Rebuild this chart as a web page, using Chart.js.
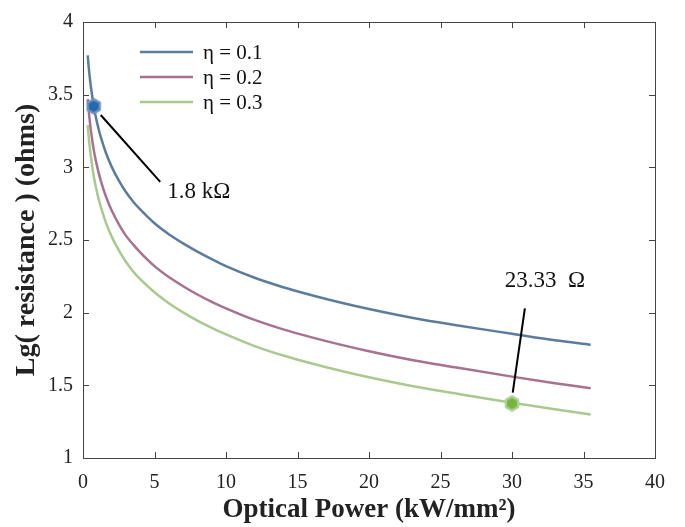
<!DOCTYPE html>
<html><head><meta charset="utf-8">
<script src="https://cdn.jsdelivr.net/npm/chart.js@4.4.0/dist/chart.umd.min.js"></script>
<style>html,body{margin:0;background:#fff}</style>
</head><body>
<canvas id="c" width="685" height="527"></canvas>
<script>
// values
const power=[0.33,0.4,0.5,0.6,0.75,0.9,1.1,1.3,1.6,2,2.5,3,3.5,4,5,6,7,8,9,10,12,14,16,18,20,23,26,30,33,35.5];
const eta1=[3.77,3.69,3.595,3.52,3.42,3.345,3.26,3.19,3.10,3.005,2.91,2.83,2.765,2.71,2.615,2.54,2.477,2.42,2.368,2.32,2.24,2.175,2.12,2.07,2.025,1.965,1.915,1.855,1.81,1.78];
const eta2=[3.47,3.39,3.295,3.22,3.12,3.045,2.96,2.89,2.80,2.705,2.61,2.53,2.47,2.415,2.32,2.245,2.182,2.125,2.075,2.03,1.95,1.885,1.83,1.78,1.735,1.675,1.625,1.56,1.515,1.48];
const eta3=[3.29,3.21,3.115,3.04,2.94,2.865,2.78,2.71,2.62,2.525,2.43,2.35,2.285,2.23,2.14,2.065,2.002,1.945,1.895,1.85,1.77,1.705,1.65,1.60,1.555,1.495,1.445,1.38,1.335,1.30];
const seriesNames=['η = 0.1','η = 0.2','η = 0.3'];
const markPower=[0.75,30];
const markLg=[3.42,1.375];
const markText=['1.8 kΩ','23.33  Ω'];
const xTicks=[0,5,10,15,20,25,30,35,40];
const yTicks=[1,1.5,2,2.5,3,3.5,4];

const COLS=['#5C7C9E','#A8718F','#A9C98F'];
const SERIF='"Liberation Serif","DejaVu Serif",serif';

function hexMark(fill,ring){
  const c=document.createElement('canvas'),r=8;c.width=c.height=2*r+2;
  const g=c.getContext('2d');g.beginPath();
  for(let i=0;i<6;i++){const a=Math.PI/6+i*Math.PI/3;g.lineTo(r+1+(r-1)*Math.cos(a),r+1+(r-1)*Math.sin(a));}
  g.closePath();g.fillStyle=fill;g.fill();g.lineWidth=2.4;g.strokeStyle=ring;g.stroke();
  return c;
}
const pts=arr=>power.map((p,i)=>({x:p,y:arr[i]}));

// callout geometry, data coords: [from x,y, to x,y, text x,y, align]
const callouts=[[1.24,3.36,5.4,2.9,5.9,2.83,'left'],[30.05,1.45,30.9,2.03,32.3,2.22,'center']];

const boxPlug={id:'box',afterDraw(ch){
  const {ctx,chartArea:a,scales:{x,y}}=ch;
  ctx.save();ctx.strokeStyle='#444';ctx.lineWidth=1;
  ctx.strokeRect(Math.round(a.left)+.5,Math.round(a.top)+.5,Math.round(a.right-a.left),Math.round(a.bottom-a.top));
  ctx.beginPath();
  xTicks.slice(1,-1).forEach(t=>{const px=Math.round(x.getPixelForValue(t))+.5;
    ctx.moveTo(px,a.bottom);ctx.lineTo(px,a.bottom-6);ctx.moveTo(px,a.top);ctx.lineTo(px,a.top+6);});
  yTicks.slice(1,-1).forEach(t=>{const py=Math.round(y.getPixelForValue(t))+.5;
    ctx.moveTo(a.left,py);ctx.lineTo(a.left+6,py);ctx.moveTo(a.right,py);ctx.lineTo(a.right-6,py);});
  ctx.stroke();
  // legend
  ctx.font='21px '+SERIF;ctx.textBaseline='middle';ctx.fillStyle='#111';
  seriesNames.forEach((n,i)=>{const ly=52+i*25;
    ctx.strokeStyle=COLS[i];ctx.lineWidth=2.5;ctx.beginPath();ctx.moveTo(140,ly);ctx.lineTo(193,ly);ctx.stroke();
    ctx.fillText(n,203,ly+1);});
  // callouts
  ctx.strokeStyle='#000';ctx.lineWidth=2;ctx.font='23px '+SERIF;
  callouts.forEach((c,i)=>{
    ctx.beginPath();ctx.moveTo(x.getPixelForValue(c[0]),y.getPixelForValue(c[1]));
    ctx.lineTo(x.getPixelForValue(c[2]),y.getPixelForValue(c[3]));ctx.stroke();
    ctx.textAlign=c[6];ctx.fillText(markText[i],x.getPixelForValue(c[4]),y.getPixelForValue(c[5]));
  });
  ctx.restore();
}};

new Chart(document.getElementById('c'),{
  type:'scatter',
  data:{datasets:[
    {label:'m1',data:[{x:markPower[0],y:markLg[0]}],pointStyle:hexMark('#2468B0','#7393B8'),pointRadius:8},
    {label:'m2',data:[{x:markPower[1],y:markLg[1]}],pointStyle:hexMark('#77B43F','#ABD08F'),pointRadius:8},
    {label:seriesNames[0],data:pts(eta1),showLine:true,borderColor:COLS[0],borderWidth:2.5,pointRadius:0,cubicInterpolationMode:'monotone'},
    {label:seriesNames[1],data:pts(eta2),showLine:true,borderColor:COLS[1],borderWidth:2.5,pointRadius:0,cubicInterpolationMode:'monotone'},
    {label:seriesNames[2],data:pts(eta3),showLine:true,borderColor:COLS[2],borderWidth:2.5,pointRadius:0,cubicInterpolationMode:'monotone'}
  ]},
  options:{
    responsive:false,animation:false,devicePixelRatio:1,
    layout:{padding:{left:0,right:30,top:13,bottom:0}},
    plugins:{legend:{display:false},tooltip:{enabled:false}},
    scales:{
      x:{type:'linear',min:0,max:40,
        afterBuildTicks:s=>{s.ticks=xTicks.map(v=>({value:v}));},
        afterFit:s=>{s.height=69;},
        grid:{display:false,drawTicks:false},border:{display:false},
        ticks:{color:'#222',font:{family:SERIF,size:20},padding:13,maxRotation:0,callback:v=>String(v)},
        title:{display:true,text:'Optical Power (kW/mm²)',color:'#222',font:{family:SERIF,size:27,weight:'bold'},padding:{top:0,bottom:1}}},
      y:{type:'linear',min:1,max:4,
        afterBuildTicks:s=>{s.ticks=yTicks.map(v=>({value:v}));},
        afterFit:s=>{s.width=83;},
        grid:{display:false,drawTicks:false},border:{display:false},
        ticks:{color:'#222',font:{family:SERIF,size:20},padding:10,callback:v=>String(v)},
        title:{display:true,text:'Lg( resistance ) (ohms)',color:'#222',font:{family:SERIF,size:28,weight:'bold'},padding:{top:10,bottom:0}}}
    }
  },
  plugins:[boxPlug]
});
</script>
</body></html>
